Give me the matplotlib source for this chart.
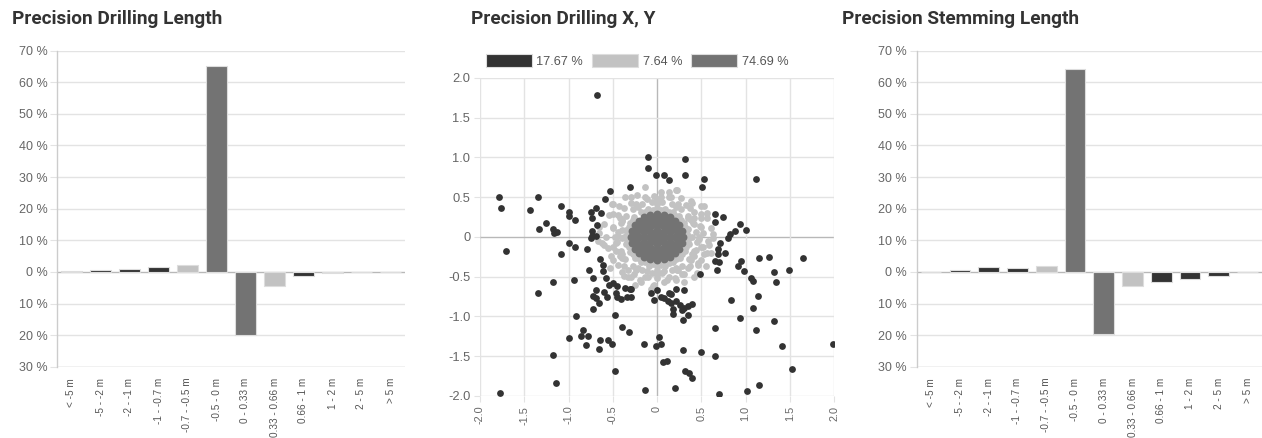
import matplotlib
matplotlib.use("Agg")
import matplotlib.pyplot as plt
from matplotlib.patches import Patch

plt.rcParams['font.family'] = ['Liberation Sans', 'DejaVu Sans']

# ---------------- data ----------------
categories = ["< -5 m", "-5 - -2 m", "-2 - -1 m", "-1 - -0.7 m", "-0.7 - -0.5 m", "-0.5 - 0 m",
              "0 - 0.33 m", "0.33 - 0.66 m", "0.66 - 1 m", "1 - 2 m", "2 - 5 m", "> 5 m"]
drilling_pct = [0.2, 0.5, 1.0, 1.4, 2.2, 65.3, -19.9, -4.4, -1.4, -0.4, 0.0, -0.1]
stemming_pct = [0.0, 0.5, 1.6, 1.3, 1.9, 64.3, -19.6, -4.4, -3.1, -2.3, -1.2, 0.0]
bar_class = ["out", "out", "out", "out", "near", "good", "good", "near", "out", "out", "out", "out"]

legend_labels = ["17.67 %", "7.64 %", "74.69 %"]

dark_pts = [(-0.68, 1.78), (-0.10, 1.00), (0.32, 0.98), (-0.10, 0.87), (-0.01, 0.78), (0.08, 0.78),
            (0.13, 0.72), (0.32, 0.78), (0.53, 0.73), (0.51, 0.63), (1.12, 0.73), (-0.31, 0.63),
            (-0.53, 0.58), (-0.59, 0.48), (-1.78, 0.50), (-1.76, 0.36), (-1.35, 0.50), (-1.43, 0.34),
            (-1.09, 0.39), (-1.00, 0.31), (-1.00, 0.27), (-0.93, 0.21), (-1.25, 0.17), (-1.33, 0.10),
            (-1.18, 0.10), (-1.16, 0.05), (-1.13, 0.06), (-0.75, 0.31), (-0.69, 0.36), (-0.63, 0.30),
            (-0.73, 0.24), (-0.68, 0.15), (-0.74, 0.08), (-0.73, 0.01), (-0.69, 0.01), (-0.75, -0.01),
            (-1.71, -0.18), (-1.08, -0.21), (-1.00, -0.07), (-0.93, -0.12), (-0.79, -0.15), (-0.64, -0.28),
            (-0.61, -0.35), (-0.77, -0.42), (-0.61, -0.43), (-0.58, -0.51), (-0.72, -0.51), (-0.94, -0.54),
            (-1.17, -0.57), (-1.34, -0.71), (-0.54, -0.60), (-0.50, -0.58), (-0.45, -0.62), (-0.36, -0.64),
            (-0.31, -0.65), (-0.29, -0.66), (-0.69, -0.67), (-0.60, -0.69), (-0.72, -0.74), (-0.57, -0.75),
            (-0.69, -0.77), (-0.66, -0.83), (-0.46, -0.71), (-0.45, -0.76), (-0.41, -0.78), (-0.34, -0.76),
            (-0.29, -0.76), (-0.72, -0.90), (-0.92, -0.99), (-0.48, -0.98), (-0.40, -1.13), (-0.32, -1.19),
            (-0.84, -1.17), (-0.86, -1.25), (-0.99, -1.27), (-0.78, -1.25), (-0.80, -1.36), (-0.64, -1.30),
            (-0.65, -1.41), (-0.55, -1.29), (-0.51, -1.35), (-1.18, -1.48), (-1.14, -1.84), (-1.77, -1.96),
            (-0.48, -1.69), (-0.15, -1.35), (-0.01, -1.37), (0.02, -1.26), (0.05, -1.34), (0.07, -1.57),
            (0.11, -1.56), (-0.13, -1.93), (0.20, -1.90), (0.29, -1.42), (0.32, -1.69), (0.36, -1.71),
            (0.40, -1.77), (0.50, -1.45), (0.66, -1.50), (0.65, -1.14), (0.70, -1.98), (1.02, -1.94),
            (1.15, -1.86), (1.53, -1.66), (1.41, -1.37), (1.99, -1.35), (1.32, -1.06), (1.12, -1.17),
            (1.08, -0.89), (0.94, -1.02), (0.84, -0.79), (1.14, -0.74), (1.35, -0.56), (1.32, -0.44),
            (1.49, -0.42), (1.65, -0.26), (1.26, -0.25), (1.15, -0.26), (1.09, -0.55), (1.06, -0.52),
            (0.98, -0.43), (0.95, -0.30), (0.92, -0.36), (1.01, 0.09), (0.94, 0.16), (0.88, 0.08),
            (0.82, 0.04), (0.80, -0.01), (0.77, -0.20), (0.75, 0.25), (0.66, 0.29), (0.66, 0.19),
            (0.71, -0.07), (0.69, -0.15), (0.69, -0.22), (0.66, -0.30), (0.70, -0.32), (0.68, -0.41),
            (0.49, -0.46), (0.40, -0.84), (0.35, -0.87), (0.35, -0.98), (0.31, -0.89), (0.28, -0.92),
            (0.29, -1.04), (0.26, -0.85), (0.22, -0.81), (0.30, -0.67), (0.21, -0.66), (0.18, -0.97),
            (0.18, -0.91), (0.16, -0.83), (0.12, -0.80), (0.13, -0.71), (0.05, -0.75), (0.08, -0.77),
            (0.00, -0.67), (-0.03, -0.79), (-0.07, -0.71), (0.16, -0.72)]

light_pts = [(-0.14, 0.63), (0.05, 0.57), (0.21, 0.59), (-0.36, 0.50), (-0.23, 0.53), (-0.11, 0.48),
             (-0.03, 0.52), (0.16, 0.50), (0.27, 0.49), (0.38, 0.45), (-0.50, 0.42), (-0.43, 0.39),
             (-0.29, 0.43), (0.50, 0.39), (0.42, 0.32), (-0.54, 0.28), (-0.44, 0.28), (-0.60, 0.16),
             (-0.65, 0.05), (-0.50, 0.11), (0.57, 0.24), (0.61, 0.11), (0.63, -0.01), (0.52, 0.05),
             (0.59, -0.10), (0.53, -0.22), (0.61, -0.20), (0.46, -0.35), (0.35, -0.39), (0.31, -0.47),
             (0.20, -0.52), (0.08, -0.56), (-0.03, -0.60), (-0.07, -0.66), (-0.18, -0.56), (-0.26, -0.47),
             (-0.37, -0.49), (-0.33, -0.41), (-0.44, -0.35), (-0.52, -0.24), (-0.60, -0.10), (-0.67, -0.05),
             (-0.46, -0.18), (-0.39, -0.26), (0.08, -0.43), (-0.11, -0.43), (0.23, -0.41), (0.38, -0.29),
             (0.44, -0.16), (0.42, 0.16), (0.35, 0.24), (-0.39, 0.20), (-0.44, 0.01), (-0.46, -0.08),
             (-0.39, 0.09), (0.48, -0.03), (0.50, 0.24), (-0.51, 0.41), (-0.65, 0.13), (-0.62, -0.08),
             (-0.55, -0.14), (-0.53, -0.39), (0.14, 0.57), (0.23, 0.59), (0.39, 0.43), (0.53, 0.39),
             (0.57, 0.30), (0.63, 0.04), (0.56, -0.20), (0.46, -0.33), (0.22, -0.54), (-0.04, -0.62),
             (-0.33, -0.50), (-0.19, -0.54), (0.11, -0.54), (0.45, -0.45), (0.55, -0.36), (-0.25, -0.60),
             (0.36, 0.00), (0.35, 0.10), (0.31, 0.18), (0.25, 0.26), (0.18, 0.32), (0.09, 0.35),
             (0.00, 0.36), (-0.10, 0.35), (-0.18, 0.31), (-0.26, 0.25), (-0.31, 0.17), (-0.35, 0.09),
             (-0.37, 0.00), (-0.35, -0.09), (-0.31, -0.19), (-0.25, -0.26), (-0.18, -0.32), (-0.09, -0.36),
             (0.00, -0.37), (0.09, -0.36), (0.18, -0.32), (0.26, -0.26), (0.32, -0.18), (0.36, -0.09),
             (0.44, 0.06), (0.41, 0.17), (0.35, 0.27), (0.27, 0.35), (0.17, 0.41), (0.06, 0.44),
             (-0.06, 0.44), (-0.17, 0.41), (-0.27, 0.35), (-0.35, 0.27), (-0.41, 0.17), (-0.44, 0.06),
             (-0.45, -0.06), (-0.41, -0.18), (-0.36, -0.28), (-0.27, -0.36), (-0.17, -0.42), (-0.06, -0.45),
             (0.06, -0.45), (0.17, -0.42), (0.28, -0.36), (0.36, -0.28), (0.42, -0.17), (0.45, -0.06),
             (0.40, 0.00), (0.38, 0.21), (0.21, 0.38), (-0.21, 0.38), (-0.39, 0.21), (-0.40, -0.01),
             (-0.39, -0.21), (-0.21, -0.39), (0.21, -0.39), (0.39, -0.21), (0.00, 0.41), (0.00, -0.41),
             (0.52, -0.12), (0.49, 0.14), (0.28, -0.46), (-0.10, -0.50), (0.00, -0.52), (0.33, 0.40),
             (0.50, 0.13), (0.37, 0.37), (0.13, 0.50), (-0.13, 0.50), (-0.37, 0.37), (-0.50, 0.13),
             (-0.50, -0.13), (-0.37, -0.37), (-0.13, -0.50), (0.13, -0.50), (0.37, -0.37), (0.50, -0.13),
             (0.50, 0.29), (-0.29, 0.50), (-0.50, 0.29), (-0.58, 0.00), (-0.50, -0.29), (-0.29, -0.50),
             (0.50, -0.29), (0.58, -0.05), (0.42, -0.50), (0.30, -0.56), (-0.40, -0.44), (0.05, 0.50),
             (0.48, 0.00), (0.42, 0.24), (0.24, 0.42), (0.00, 0.48), (-0.24, 0.42), (-0.42, 0.24),
             (-0.48, 0.00), (-0.42, -0.24), (-0.24, -0.42), (0.00, -0.48), (0.24, -0.42), (0.42, -0.24),
             (0.34, 0.04), (0.32, 0.13), (0.27, 0.21), (0.21, 0.27), (0.13, 0.32), (0.04, 0.34),
             (-0.04, 0.34), (-0.13, 0.32), (-0.27, 0.21), (-0.32, 0.13), (-0.34, 0.04),
             (-0.34, -0.04), (-0.32, -0.13), (-0.27, -0.21), (-0.21, -0.27), (-0.13, -0.32), (-0.04, -0.34),
             (0.04, -0.35), (0.13, -0.33), (0.21, -0.28), (0.28, -0.21), (0.33, -0.13), (0.35, -0.04)]

core_pts = [(0.29, 0.0), (0.28, 0.075), (0.25, 0.145), (0.205, 0.205), (0.145, 0.25), (0.075, 0.28),
            (0.0, 0.29), (-0.075, 0.28), (-0.145, 0.25), (-0.205, 0.205), (-0.25, 0.145), (-0.28, 0.075),
            (-0.29, 0.0), (-0.28, -0.075), (-0.25, -0.145), (-0.205, -0.205), (-0.145, -0.25), (-0.075, -0.28),
            (0.0, -0.29), (0.075, -0.28), (0.145, -0.25), (0.205, -0.205), (0.25, -0.145), (0.28, -0.075),
            (0.228, 0.03), (0.213, 0.088), (0.182, 0.14), (0.14, 0.182), (0.088, 0.213), (0.03, 0.228),
            (-0.03, 0.228), (-0.088, 0.213), (-0.14, 0.182), (-0.182, 0.14), (-0.213, 0.088), (-0.228, 0.03),
            (-0.228, -0.03), (-0.213, -0.088), (-0.182, -0.14), (-0.14, -0.182), (-0.088, -0.213), (-0.03, -0.228),
            (0.03, -0.228), (0.088, -0.213), (0.14, -0.182), (0.182, -0.14), (0.213, -0.088), (0.228, -0.03),
            (0.16, 0.0), (0.148, 0.061), (0.113, 0.113), (0.061, 0.148), (0.0, 0.16), (-0.061, 0.148),
            (-0.113, 0.113), (-0.148, 0.061), (-0.16, 0.0), (-0.148, -0.061), (-0.113, -0.113), (-0.061, -0.148),
            (0.0, -0.16), (0.061, -0.148), (0.113, -0.113), (0.148, -0.061),
            (0.09, 0.0), (0.064, 0.064), (0.0, 0.09), (-0.064, 0.064), (-0.09, 0.0), (-0.064, -0.064),
            (0.0, -0.09), (0.064, -0.064), (0.0, 0.0), (0.04, 0.0), (-0.04, 0.0), (0.0, 0.04), (0.0, -0.04)]

# ---------------- style ----------------
C_DARK = "#333333"
C_LIGHT = "#c2c2c2"
C_MID = "#737373"
class_color = {"out": C_DARK, "near": C_LIGHT, "good": C_MID}
GRID = "#e3e3e3"
ZERO = "#b8b8b8"
TXT = "#666666"
TITLE_FONT = ['Roboto', 'DejaVu Sans']

fig = plt.figure(figsize=(12.62, 4.38), dpi=100)
H = 438.0
W = 1262.0


def ax_rect(x0, y0, x1, y1):
    return [x0 / W, 1 - y1 / H, (x1 - x0) / W, (y1 - y0) / H]


def bar_chart(rect, values, title, title_x):
    ax = fig.add_axes(rect)
    xs = list(range(len(categories)))
    ax.bar(xs, values, width=0.72, color=[class_color[c] for c in bar_class],
           edgecolor="#dddddd", linewidth=0.8, zorder=3)
    ax.set_xlim(-0.5, len(categories) - 0.5)
    ax.set_ylim(-30, 70)
    yt = list(range(-30, 71, 10))
    ax.set_yticks(yt)
    ax.set_yticklabels([f"{abs(v)} %" for v in yt], fontsize=9, color=TXT)
    for v in yt:
        ax.axhline(v, color=(ZERO if v in (0, -30) else GRID), lw=1.0, zorder=1)
    ax.set_xticks(xs)
    ax.set_xticklabels(categories, rotation=90, fontsize=7.2, color="#555555", ha="center", va="top")
    ax.tick_params(axis="x", length=0, pad=8)
    ax.tick_params(axis="y", length=5, color=GRID, pad=2)
    for s in ["top", "right", "bottom"]:
        ax.spines[s].set_visible(False)
    ax.spines["left"].set_color("#cccccc")
    ax.spines["left"].set_linewidth(1.0)
    fig.text(title_x / W, 1 - 24.5 / H, title, fontsize=13.7, fontweight="bold", color="#333333",
             ha="left", va="baseline", family=TITLE_FONT)
    return ax


bar_chart(ax_rect(57, 50.7, 405, 366.7), drilling_pct, "Precision Drilling Length", 12)
bar_chart(ax_rect(916.7, 50.7, 1262, 366.7), stemming_pct, "Precision Stemming Length", 842)

# ---------------- scatter ----------------
ax = fig.add_axes(ax_rect(480, 78, 834, 396))
ms = 24
ax.scatter([p[0] for p in light_pts], [p[1] for p in light_pts], s=ms, color=C_LIGHT, lw=0, zorder=3)
ax.scatter([p[0] for p in core_pts], [p[1] for p in core_pts], s=32, color=C_MID, lw=0, zorder=4)
ax.scatter([p[0] for p in dark_pts], [p[1] for p in dark_pts], s=ms, color=C_DARK, lw=0, zorder=5)
ax.set_xlim(-2, 2)
ax.set_ylim(-2, 2)
ticks = [-2.0, -1.5, -1.0, -0.5, 0.0, 0.5, 1.0, 1.5, 2.0]
labels = ["0" if t == 0 else f"{t:.1f}" for t in ticks]
ax.set_xticks(ticks)
ax.set_xticklabels(labels, rotation=90, fontsize=7.8, color=TXT, ha="center", va="top")
ax.set_yticks(ticks)
ax.set_yticklabels(labels, fontsize=9.3, color=TXT)
for t in ticks:
    c = ZERO if t == 0 else GRID
    ax.axhline(t, color=c, lw=1.0, zorder=1)
    ax.axvline(t, color=c, lw=1.0, zorder=1)
ax.tick_params(axis="both", length=4, color=GRID, pad=3)
for s in ax.spines.values():
    s.set_visible(False)
fig.text(471 / W, 1 - 24.5 / H, "Precision Drilling X, Y", fontsize=13.7, fontweight="bold",
         color="#333333", ha="left", va="baseline", family=TITLE_FONT)

handles = [Patch(facecolor=c, edgecolor="#dddddd", linewidth=0.8) for c in (C_DARK, C_LIGHT, C_MID)]
fig.legend(handles, legend_labels, loc="center left", bbox_to_anchor=(486 / W, 1 - 61 / H),
           ncol=3, frameon=False, fontsize=9.2, labelcolor="#555555",
           handlelength=3.6, handleheight=1.25, handletextpad=0.35, columnspacing=0.7,
           borderaxespad=0, borderpad=0)

fig.savefig("out.png", dpi=100, facecolor="white")
